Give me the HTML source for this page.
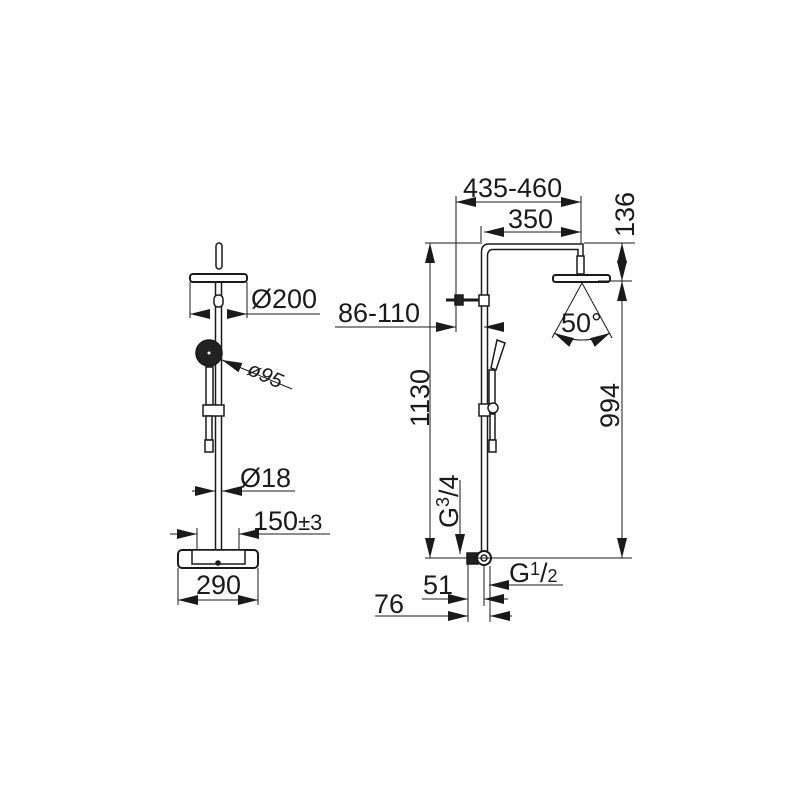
<!DOCTYPE html>
<html><head><meta charset="utf-8"><style>html,body{margin:0;padding:0;background:#fff}svg{display:block}</style></head><body>
<svg width="800" height="800" viewBox="0 0 800 800" xmlns="http://www.w3.org/2000/svg" font-family="Liberation Sans, sans-serif" fill="none" stroke="#1a1a1a">
<defs>
<marker id="a" viewBox="0 0 20 10" refX="20" refY="5" markerWidth="20" markerHeight="10" markerUnits="userSpaceOnUse" orient="auto-start-reverse"><path d="M0,0 L20,5 L0,10 Z" fill="#1a1a1a" stroke="none"/></marker>
</defs>
<!-- LEFT VIEW -->
<g stroke-width="1.5">
<rect x="216" y="243" width="6" height="26" rx="3" fill="#fff"/>
<rect x="190" y="274" width="57" height="8" rx="3" fill="#fff" stroke-width="2"/>
<line x1="215.5" y1="282" x2="215.5" y2="550"/><line x1="221.5" y1="282" x2="221.5" y2="550"/>
<rect x="214" y="295" width="9" height="12" rx="4" fill="#fff"/>
<circle cx="209" cy="353" r="13" fill="#222"/><circle cx="209" cy="353" r="1.5" fill="#fff" stroke="none"/>
<rect x="206" y="367" width="7" height="38" fill="#fff"/>
<rect x="203" y="405" width="21" height="11" fill="#fff"/>
<rect x="206" y="416" width="6" height="24" fill="#fff"/>
<rect x="205" y="440" width="8" height="12" fill="#fff"/>
<rect x="178" y="550" width="80" height="18" rx="4" fill="#fff" stroke-width="2"/>
<rect x="192" y="550" width="53" height="14" fill="#fff"/>
<circle cx="218" cy="563" r="2" fill="#222"/>
</g>
<g stroke-width="1">
<line x1="190" y1="282" x2="190" y2="318"/><line x1="247" y1="282" x2="247" y2="318"/>
<line x1="205" y1="314" x2="190" y2="314" marker-end="url(#a)"/><line x1="230" y1="314" x2="247" y2="314" marker-end="url(#a)"/><line x1="247" y1="314" x2="320" y2="314"/>
<line x1="292" y1="389" x2="222" y2="360" marker-end="url(#a)"/>
<line x1="192" y1="491" x2="215" y2="491" marker-end="url(#a)"/><line x1="295" y1="491" x2="222" y2="491" marker-end="url(#a)"/>
<line x1="170" y1="534" x2="197" y2="534" marker-end="url(#a)"/><line x1="330" y1="534" x2="239" y2="534" marker-end="url(#a)"/>
<line x1="197" y1="528" x2="197" y2="550"/><line x1="239" y1="528" x2="239" y2="550"/>
<line x1="178" y1="568" x2="178" y2="605"/><line x1="258" y1="568" x2="258" y2="605"/>
<line x1="200" y1="600" x2="178" y2="600" marker-end="url(#a)"/><line x1="236" y1="600" x2="258" y2="600" marker-end="url(#a)"/><line x1="200" y1="600" x2="236" y2="600"/>
</g>
<g fill="#1a1a1a" stroke="none" font-size="27">
<text x="251" y="308">Ø200</text>
<text x="246" y="374" font-size="21" font-style="italic" transform="rotate(24 246 374)">ø95</text>
<text x="240" y="487">Ø18</text>
<text x="253" y="530">150<tspan font-size="22">±3</tspan></text>
<text x="196" y="594">290</text>
</g>
<!-- RIGHT VIEW -->
<g stroke-width="1.5">
<path d="M481.5,558 V252 Q481.5,244 489,244 H583 V258" />
<path d="M487.5,558 V256 Q487.5,249.5 493,249.5 H578 V258"/>
<rect x="577" y="256" width="7" height="18" fill="#fff"/>
<rect x="553" y="275" width="57" height="7" rx="2.5" fill="#fff" stroke-width="2"/>
<line x1="446" y1="300" x2="480" y2="300" stroke-width="3"/>
<rect x="455" y="295" width="8" height="10" fill="#222"/>
<rect x="479" y="295" width="10" height="11" fill="#fff"/>
<path d="M491,368 L497,340 L505,343 L496,370 Z" fill="#fff"/>
<rect x="489" y="370" width="6" height="36" fill="#fff"/>
<rect x="479" y="404" width="11" height="12" fill="#fff"/>
<circle cx="493" cy="408" r="5" fill="#fff"/>
<rect x="490" y="414" width="5" height="26" fill="#fff"/>
<rect x="489" y="440" width="7" height="12" fill="#fff"/>
<rect x="467" y="553" width="11" height="11" fill="#222"/>
<circle cx="484" cy="558" r="7" fill="#fff" stroke-width="2"/><circle cx="484" cy="558" r="3"/>
</g>
<g stroke-width="1">
<line x1="456" y1="196" x2="456" y2="332"/><line x1="581" y1="196" x2="581" y2="243"/>
<line x1="481" y1="226" x2="481" y2="244"/>
<line x1="520" y1="202" x2="456" y2="202" marker-end="url(#a)"/><line x1="520" y1="202" x2="581" y2="202" marker-end="url(#a)"/>
<line x1="530" y1="232" x2="484" y2="232" marker-end="url(#a)"/><line x1="530" y1="232" x2="581" y2="232" marker-end="url(#a)"/>
<line x1="425" y1="243" x2="480" y2="243"/><line x1="584" y1="243" x2="635" y2="243"/>
<line x1="598" y1="281" x2="632" y2="281"/>
<line x1="622" y1="262" x2="622" y2="243" marker-end="url(#a)"/><line x1="622" y1="262" x2="622" y2="281" marker-end="url(#a)"/>
<line x1="622" y1="420" x2="622" y2="281" marker-end="url(#a)"/><line x1="622" y1="420" x2="622" y2="558" marker-end="url(#a)"/>
<line x1="430" y1="400" x2="430" y2="243" marker-end="url(#a)"/><line x1="430" y1="400" x2="430" y2="558" marker-end="url(#a)"/>
<line x1="425" y1="558" x2="632" y2="558"/>
<line x1="582" y1="283" x2="552" y2="338"/><line x1="582" y1="283" x2="612" y2="338"/>
<path d="M582,340 Q567,340 554,333" marker-end="url(#a)"/><path d="M582,340 Q597,340 610,333" marker-end="url(#a)"/>
<line x1="335" y1="327" x2="456" y2="327" marker-end="url(#a)"/><line x1="502" y1="327" x2="484" y2="327" marker-end="url(#a)"/>
<line x1="460" y1="480" x2="460" y2="554" marker-end="url(#a)"/>
<line x1="563" y1="585" x2="489" y2="585" marker-end="url(#a)"/>
<line x1="468" y1="562" x2="468" y2="622"/><line x1="484" y1="566" x2="484" y2="606"/><line x1="490" y1="566" x2="490" y2="622"/>
<line x1="422" y1="599" x2="468" y2="599" marker-end="url(#a)"/><line x1="508" y1="599" x2="484" y2="599" marker-end="url(#a)"/>
<line x1="375" y1="616" x2="468" y2="616" marker-end="url(#a)"/><line x1="512" y1="616" x2="490" y2="616" marker-end="url(#a)"/>
</g>
<g fill="#1a1a1a" stroke="none" font-size="27">
<text x="463" y="197">435-460</text>
<text x="508" y="228">350</text>
<text transform="translate(634 237) rotate(-90)">136</text>
<text x="561" y="332">50°</text>
<text x="338" y="322">86-110</text>
<text transform="translate(429 427) rotate(-90)">1130</text>
<text transform="translate(619 428) rotate(-90)">994</text>
<text transform="translate(458 528) rotate(-90)">G<tspan font-size="18" dy="-9">3</tspan><tspan dy="9">/4</tspan></text>
<text x="509" y="582">G<tspan font-size="18" dy="-7">1</tspan><tspan dy="7">/</tspan><tspan font-size="18">2</tspan></text>
<text x="423" y="594">51</text>
<text x="374" y="613">76</text>
</g>
</svg>
</body></html>
